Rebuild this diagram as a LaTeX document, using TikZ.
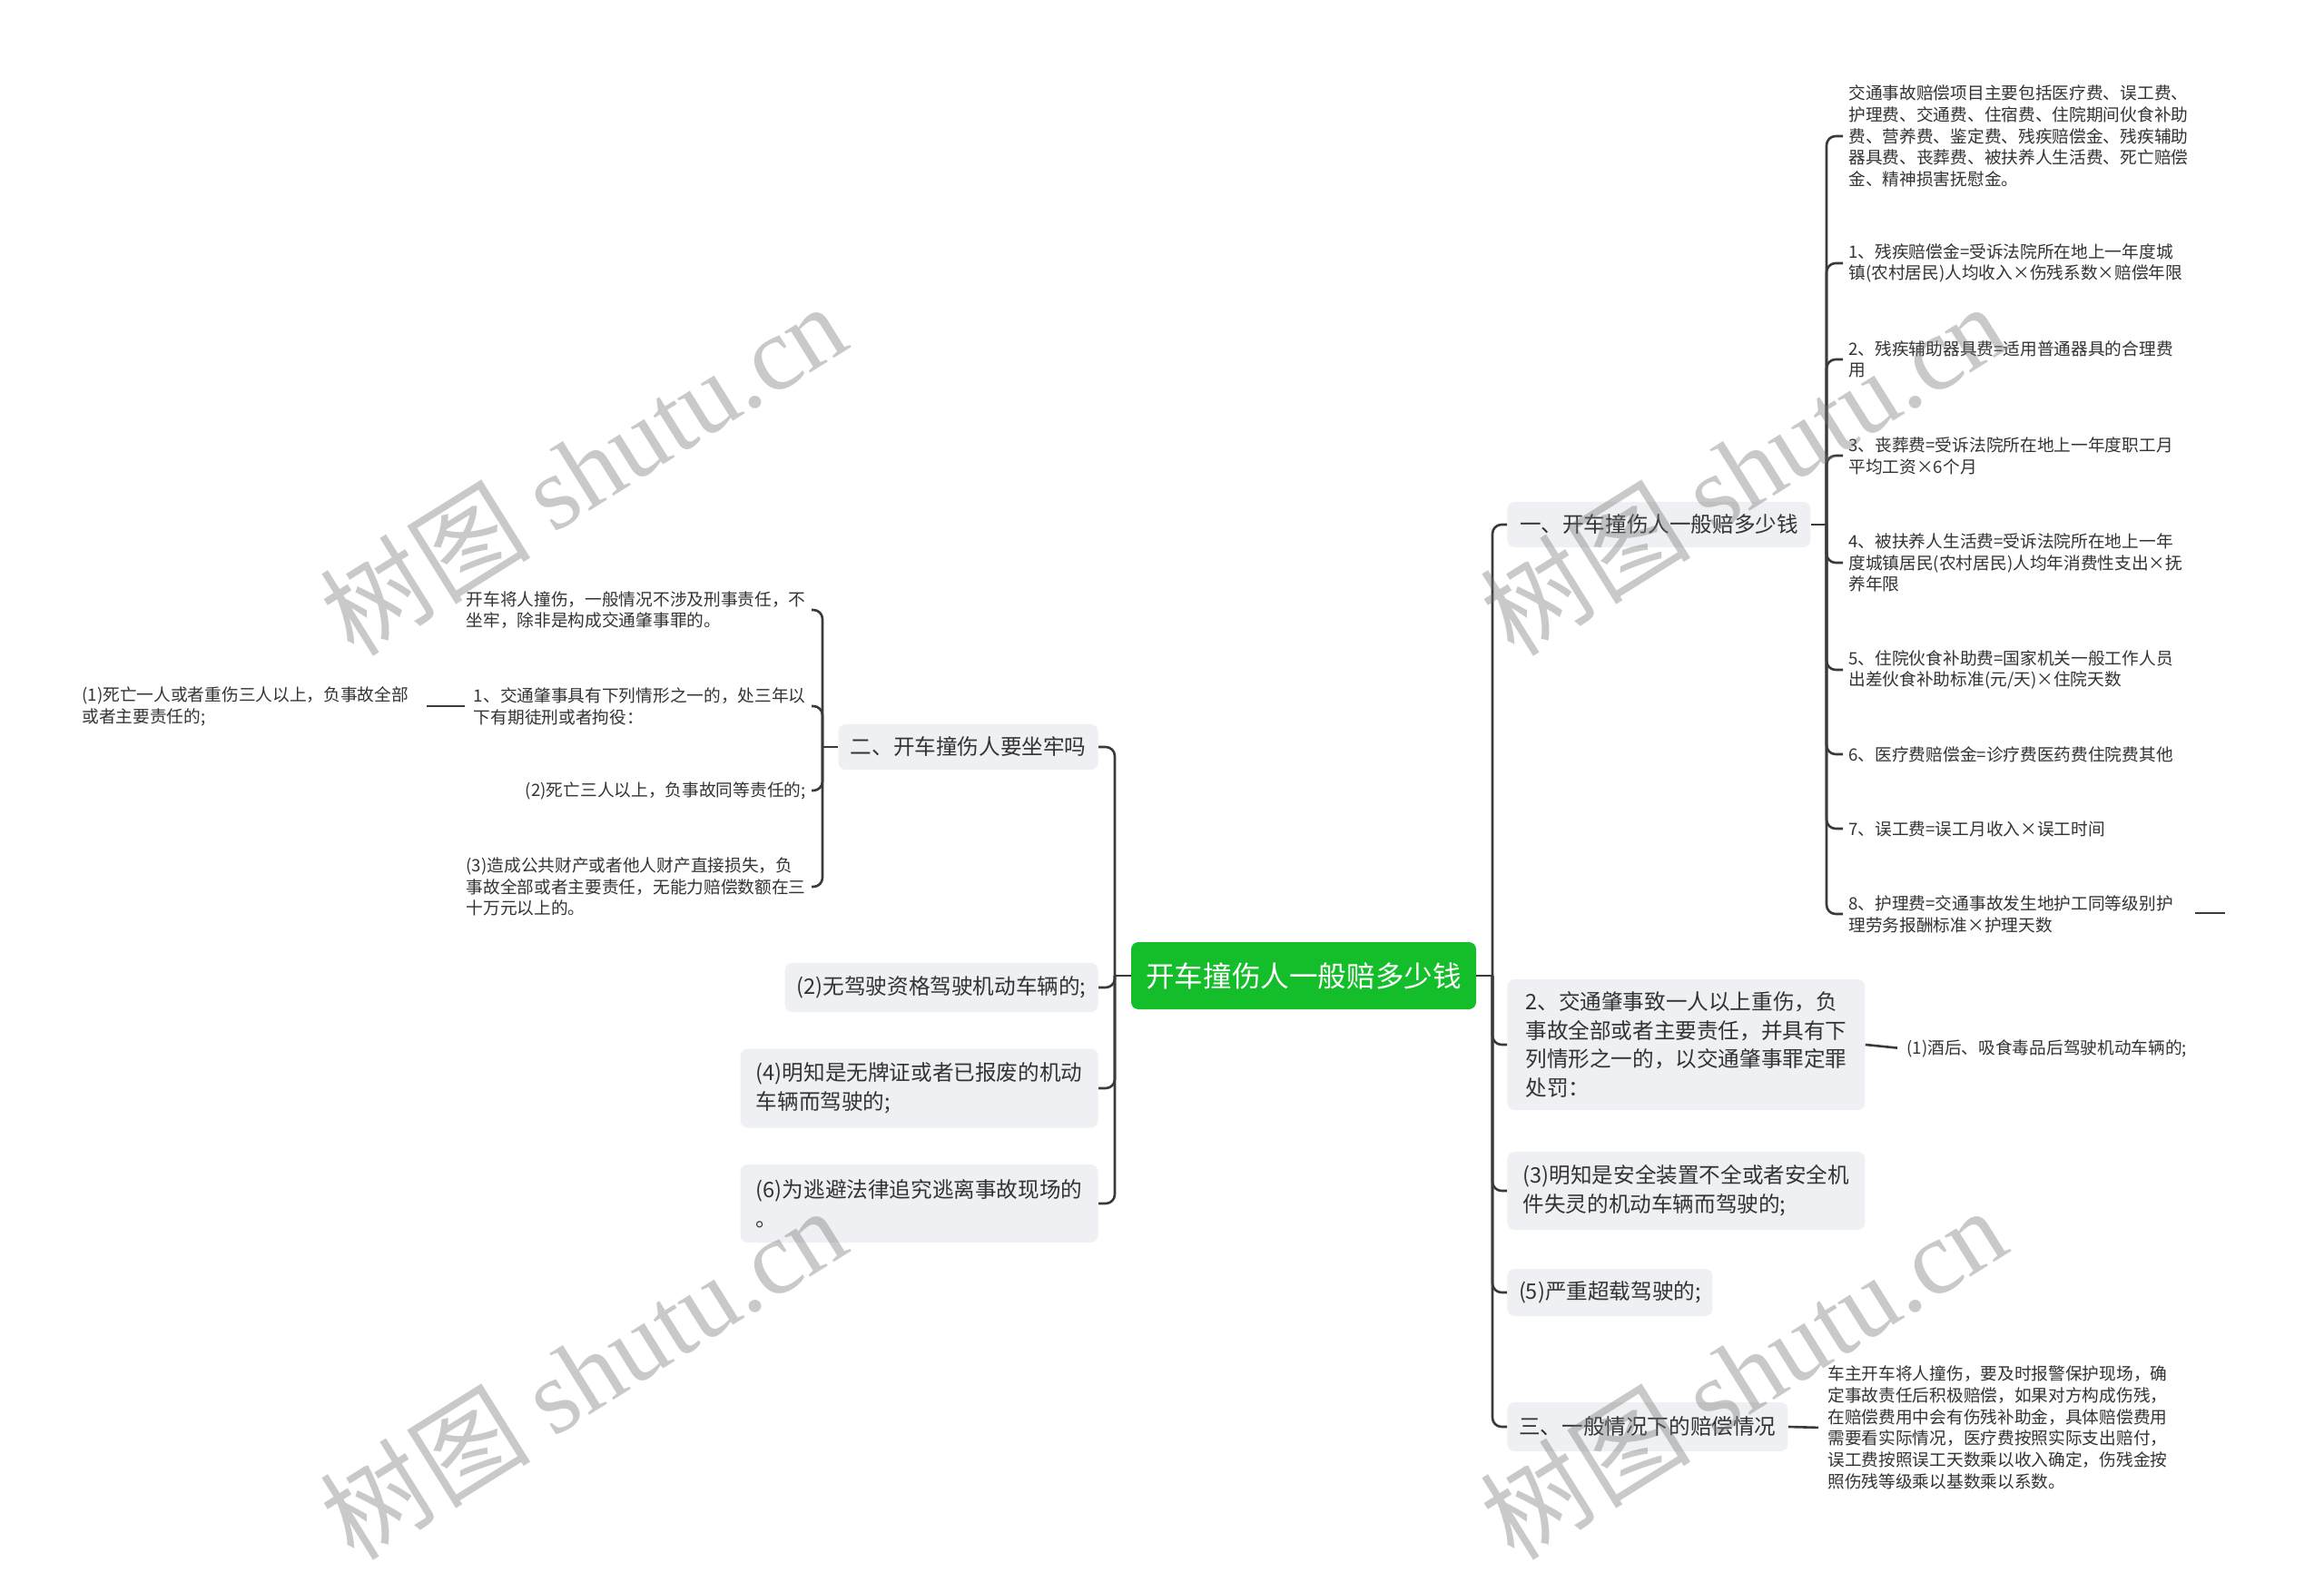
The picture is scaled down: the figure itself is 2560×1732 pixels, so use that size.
\documentclass[tikz,border=0pt]{standalone}
\usepackage{fontspec}
\setmainfont{Noto Sans CJK SC}
\newfontfamily\wmlatin{Liberation Serif}
\newfontfamily\wmcjk{Noto Sans CJK SC}
\definecolor{rootgreen}{HTML}{14BE2A}
\definecolor{boxbg}{HTML}{EEF0F3}
\definecolor{txt}{HTML}{333333}
\definecolor{lnc}{HTML}{3A3A3A}
\begin{document}
\begin{tikzpicture}[x=0.5pt,y=-0.5pt,
  rootbox/.style={fill=rootgreen, rounded corners=4pt, text=white,
    font=\fontsize{15.8}{20}\selectfont, minimum width=190pt, minimum height=37pt, inner sep=0pt},
  topicbox/.style={fill=boxbg, rounded corners=4pt, text=txt,
    font=\fontsize{11.8}{15.85}\selectfont, align=left, inner sep=0pt},
  leaf/.style={text=txt, font=\fontsize{9.35}{11.85}\selectfont, align=left, inner xsep=3pt, inner ysep=1pt},
  conn/.style={draw=lnc, line width=1.3pt, rounded corners=5pt},
  wm/.style={text=black!55, opacity=0.38, rotate=32, inner sep=0pt}
]
\fill[white] (0,0) rectangle (2560,1732);
\useasboundingbox (0,0) rectangle (2560,1732);

% root
\node[rootbox] (root) at (1436,1075) {开车撞伤人一般赔多少钱};

% right topics
\node[topicbox, anchor=west, minimum width=167pt, minimum height=25pt] (B1) at (1660,578) {一、开车撞伤人一般赔多少钱};
\node[topicbox, anchor=west, minimum width=197pt, minimum height=72pt] (B2) at (1660,1151) {2、交通肇事致一人以上重伤，负\\事故全部或者主要责任，并具有下\\列情形之一的，以交通肇事罪定罪\\处罚：};
\node[topicbox, anchor=west, minimum width=197pt, minimum height=43pt] (B3) at (1660,1312) {(3)明知是安全装置不全或者安全机\\件失灵的机动车辆而驾驶的;};
\node[topicbox, anchor=west, minimum width=113pt, minimum height=26pt] (B4) at (1660,1424) {(5)严重超载驾驶的;};
\node[topicbox, anchor=west, minimum width=154.5pt, minimum height=27pt] (B5) at (1660,1572) {三、一般情况下的赔偿情况};

% left topics
\node[topicbox, anchor=east, minimum width=143pt, minimum height=25pt] (A1) at (1210,823) {二、开车撞伤人要坐牢吗};
\node[topicbox, anchor=east, minimum width=172.5pt, minimum height=27pt] (A2) at (1210,1088) {(2)无驾驶资格驾驶机动车辆的;};
\node[topicbox, anchor=east, minimum width=197pt, minimum height=43.5pt] (A3) at (1210,1199) {(4)明知是无牌证或者已报废的机动\\车辆而驾驶的;};
\node[topicbox, anchor=east, minimum width=197pt, minimum height=43pt] (A4) at (1210,1326) {(6)为逃避法律追究逃离事故现场的\\。};

% leaves of B1
\node[leaf, anchor=west] (L0) at (2030,150) {交通事故赔偿项目主要包括医疗费、误工费、\\护理费、交通费、住宿费、住院期间伙食补助\\费、营养费、鉴定费、残疾赔偿金、残疾辅助\\器具费、丧葬费、被扶养人生活费、死亡赔偿\\金、精神损害抚慰金。};
\node[leaf, anchor=west] (L1) at (2030,290) {1、残疾赔偿金=受诉法院所在地上一年度城\\镇(农村居民)人均收入×伤残系数×赔偿年限};
\node[leaf, anchor=west] (L2) at (2030,396) {2、残疾辅助器具费=适用普通器具的合理费\\用};
\node[leaf, anchor=west] (L3) at (2030,502) {3、丧葬费=受诉法院所在地上一年度职工月\\平均工资×6个月};
\node[leaf, anchor=west] (L4) at (2030,620) {4、被扶养人生活费=受诉法院所在地上一年\\度城镇居民(农村居民)人均年消费性支出×抚\\养年限};
\node[leaf, anchor=west] (L5) at (2030,738) {5、住院伙食补助费=国家机关一般工作人员\\出差伙食补助标准(元/天)×住院天数};
\node[leaf, anchor=west] (L6) at (2030,831) {6、医疗费赔偿金=诊疗费医药费住院费其他};
\node[leaf, anchor=west] (L7) at (2030,913) {7、误工费=误工月收入×误工时间};
\node[leaf, anchor=west] (L8) at (2030,1007) {8、护理费=交通事故发生地护工同等级别护\\理劳务报酬标准×护理天数};
\coordinate (L8s) at (2418,1006);
\coordinate (L8e) at (2451,1006);

% child of B2
\node[leaf, anchor=west] (B2c) at (2094,1155) {(1)酒后、吸食毒品后驾驶机动车辆的;};
% child of B5
\node[leaf, anchor=west] (B5c) at (2007,1573) {车主开车将人撞伤，要及时报警保护现场，确\\定事故责任后积极赔偿，如果对方构成伤残，\\在赔偿费用中会有伤残补助金，具体赔偿费用\\需要看实际情况，医疗费按照实际支出赔付，\\误工费按照误工天数乘以收入确定，伤残金按\\照伤残等级乘以基数乘以系数。};

% leaves of A1
\node[leaf, anchor=east] (M0) at (894,672) {开车将人撞伤，一般情况不涉及刑事责任，不\\坐牢，除非是构成交通肇事罪的。};
\node[leaf, anchor=east] (M1) at (894,778) {1、交通肇事具有下列情形之一的，处三年以\\下有期徒刑或者拘役：};
\node[leaf, anchor=east] (M2) at (894,871) {(2)死亡三人以上，负事故同等责任的;};
\node[leaf, anchor=east] (M3) at (894,977) {(3)造成公共财产或者他人财产直接损失，负\\事故全部或者主要责任，无能力赔偿数额在三\\十万元以上的。};
\node[leaf, anchor=west] (M1c) at (84,778) {(1)死亡一人或者重伤三人以上，负事故全部\\或者主要责任的;};

% junctions
\coordinate (jR) at (1644,1075);
\coordinate (jL) at (1228,1075);
\coordinate (jB1) at (2012,578);
\coordinate (jA1) at (906,823);

% connectors
\draw[conn] (root.east) -- (jR);
\foreach \n in {B1,B2,B3,B4,B5} \draw[conn] (jR) |- (\n.west);
\draw[conn] (root.west) -- (jL);
\foreach \n in {A1,A2,A3,A4} \draw[conn] (jL) |- (\n.east);
\draw[conn] (B1.east) -- (jB1);
\foreach \n in {L0,L1,L2,L3,L4,L5,L6,L7,L8} \draw[conn] (jB1) |- (\n.west);
\draw[conn] (A1.west) -- (jA1);
\foreach \n in {M0,M1,M2,M3} \draw[conn] (jA1) |- (\n.east);
\draw[conn] (L8s) -- (L8e);
\draw[conn, shorten >=2pt] (B2.east) -- (B2c.west);
\draw[conn, shorten >=2pt] (B5.east) -- (B5c.west);
\draw[conn, shorten <=2pt, shorten >=7pt] (M1.west) -- (M1c.east);

% watermarks
\foreach \p [count=\i] in {(642,516),(1920,516),(642,1512),(1920,1512)}
  \node[wm] (wm\i) at \p {\fontsize{58}{58}\selectfont{\wmcjk 树图} {\wmlatin shutu.cn}};
\end{tikzpicture}
\end{document}
